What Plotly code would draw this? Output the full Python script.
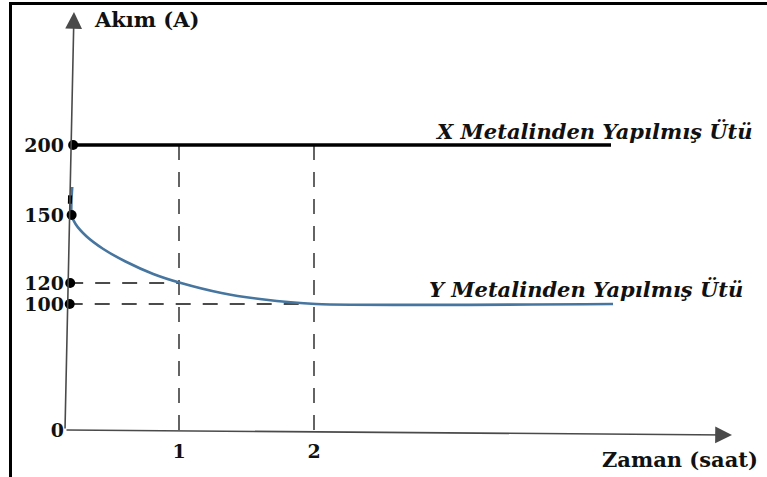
import plotly.graph_objects as go

# ---------------------------------------------------------------- data
time_ticks = [1, 2]                       # saat
time_tick_text = ["1", "2"]
current_ticks = [0, 100, 120, 150, 200]   # A
current_tick_text = ["0", "100", "120", "150", "200"]

# X metal iron: constant current
x_time = [0, 4.2]
x_current = [200, 200]

# Y metal iron: current drops from 150 A and settles at 100 A
y_time = [0, 0, 0.05, 0.15, 0.3, 0.5, 0.75, 1.0, 1.3, 1.6, 2.0, 4.2]
y_current = [170, 150, 146, 140.5, 135, 129.5, 124, 120, 110.5, 104.5, 100, 100]

# short mark on the current axis between 150 and 200
axis_mark_current = [158, 164]

# ------------------------------------------------- sketch (not-to-scale) axes
# the drawing spaces the labelled values unevenly; these stops give the
# drawing position of each labelled value, linear between and beyond them
T_STOPS, T_POS = [0, 1, 2], [0, 111, 246]
I_STOPS, I_POS = [0, 100, 120, 150, 200], [0, 126, 147, 215, 285]


def _piecewise(v, stops, pos):
    if v <= stops[0]:
        i = 0
    elif v >= stops[-1]:
        i = len(stops) - 2
    else:
        i = max(k for k in range(len(stops) - 1) if stops[k] <= v)
    s0, s1, p0, p1 = stops[i], stops[i + 1], pos[i], pos[i + 1]
    return p0 + (v - s0) * (p1 - p0) / (s1 - s0)


def sx(values):
    return [_piecewise(v, T_STOPS, T_POS) for v in values]


def sy(values):
    return [_piecewise(v, I_STOPS, I_POS) for v in values]


# the hand-drawn current axis leans slightly to the right as it rises
def axis_u(v):
    return -3 + v * 9 / 418


W, H = 767, 477
X_RANGE = [-68, 699]
Y_RANGE = [-47, 430]

FONT = "DejaVu Serif"
INK = "#111111"
AXIS = "#4a4a4a"
BLUE = "#46759f"
DASH = "15px,12px"

fig = go.Figure()

# dashed guide lines
for t, i in zip([1, 2], [120, 100]):
    fig.add_trace(go.Scatter(
        x=sx([t, t]), y=sy([0, 200]), mode="lines",
        line=dict(color=INK, width=1.3, dash=DASH), hoverinfo="skip"))
    fig.add_trace(go.Scatter(
        x=[axis_u(sy([i])[0]), sx([t])[0]], y=sy([i, i]), mode="lines",
        line=dict(color=INK, width=1.3, dash=DASH), hoverinfo="skip"))

# Y metal curve
fig.add_trace(go.Scatter(
    x=[axis_u(v) + 2 if t == 0 else u + 2 for t, u, v in
       zip(y_time, sx(y_time), sy(y_current))],
    y=sy(y_current), mode="lines",
    line=dict(color=BLUE, width=2.6, shape="spline", smoothing=0.7),
    hoverinfo="skip"))

# X metal line
fig.add_trace(go.Scatter(
    x=[axis_u(sy([200])[0]) + 1] + sx(x_time[1:]), y=sy(x_current),
    mode="lines", line=dict(color="#000000", width=3.4), hoverinfo="skip"))

# mark on the axis
mv = sy(axis_mark_current)
fig.add_trace(go.Scatter(
    x=[axis_u(v) for v in mv], y=mv, mode="lines",
    line=dict(color="#000000", width=4), hoverinfo="skip"))

# dots on the axis at each labelled current
dot_v = sy(current_ticks[1:])
fig.add_trace(go.Scatter(
    x=[axis_u(v) + 2 for v in dot_v], y=dot_v, mode="markers",
    marker=dict(color="#000000", size=10, symbol="circle"),
    hoverinfo="skip", cliponaxis=False))

# axes with arrow heads
arrow = dict(text="", showarrow=True, arrowhead=2, arrowsize=2.1,
             arrowwidth=1.6, arrowcolor=AXIS, axref="x", ayref="y",
             xref="x", yref="y", standoff=0, startstandoff=0)
fig.add_annotation(x=6, y=418, ax=-3, ay=0, **arrow)
fig.add_annotation(x=664, y=-5, ax=-3, ay=0, **arrow)

label_font = dict(family=FONT, size=21, color=INK, weight="bold")
ital_font = dict(family=FONT, size=21, color=INK, weight="bold", style="italic")

fig.add_annotation(text="Akım (A)", xref="paper", yref="paper",
                   x=92 / W, y=1 - 19 / H, xanchor="left", yanchor="middle",
                   showarrow=False, font=label_font)
fig.add_annotation(text="Zaman (saat)", xref="paper", yref="paper",
                   x=760 / W, y=1 - 459 / H, xanchor="right", yanchor="middle",
                   showarrow=False, font=label_font)
fig.add_annotation(text="X Metalinden Yapılmış Ütü", xref="paper", yref="y",
                   x=755 / W, y=sy([200])[0] + 14, xanchor="right",
                   yanchor="middle", showarrow=False, font=ital_font)
fig.add_annotation(text="Y Metalinden Yapılmış Ütü", xref="paper", yref="y",
                   x=745 / W, y=sy([100])[0] + 15, xanchor="right",
                   yanchor="middle", showarrow=False, font=ital_font)

# picture frame
fig.add_shape(type="rect", xref="paper", yref="paper",
              x0=10.5 / W, x1=1.02, y0=-0.02, y1=1 - 3.5 / H,
              line=dict(color="#000000", width=3))

fig.update_layout(
    width=W, height=H, margin=dict(l=0, r=0, t=0, b=0),
    paper_bgcolor="white", plot_bgcolor="white", showlegend=False,
    xaxis=dict(range=X_RANGE, domain=[0, 1], showgrid=False, zeroline=False,
               showline=False, ticks="", tickvals=sx(time_ticks),
               ticktext=time_tick_text, anchor="free",
               position=(H - 430) / H, ticklabelstandoff=8,
               tickfont=dict(family=FONT, size=19, color=INK, weight="bold")),
    yaxis=dict(range=Y_RANGE, domain=[0, 1], showgrid=False, zeroline=False,
               showline=False, ticks="", tickvals=sy(current_ticks),
               ticktext=current_tick_text, anchor="free",
               position=68 / W, ticklabelstandoff=4,
               tickfont=dict(family=FONT, size=19, color=INK, weight="bold")),
)

fig.write_html("out.html")
